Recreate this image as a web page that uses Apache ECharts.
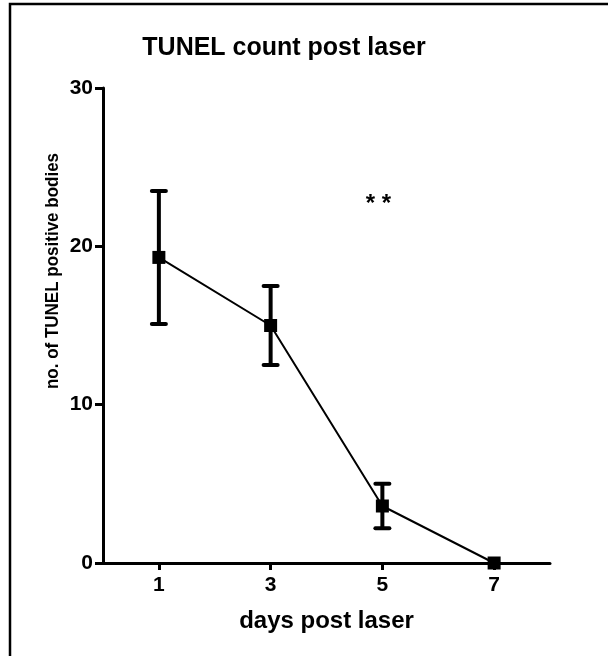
<!DOCTYPE html>
<html>
<head>
<meta charset="utf-8">
<script src="https://cdn.jsdelivr.net/npm/echarts@6/dist/echarts.min.js"></script>
<style>
  html, body { margin: 0; padding: 0; background: #fff; }
  #main { width: 608px; height: 656px; }
</style>
</head>
<body>
<div id="main"></div>
<script>
// days and mean TUNEL counts
let days = [1, 3, 5, 7];
let meanCount = [19.3, 15.0, 3.6, 0];
let errLow = [15.1, 12.5, 2.2, 0];
let errHigh = [23.5, 17.5, 5.0, 0];
let yTicks = [0, 10, 20, 30];

let lineData = days.map(function (d, i) { return [d, meanCount[i]]; });
let errData = days.map(function (d, i) { return [d, errLow[i], errHigh[i]]; });

let font = 'Liberation Sans, Arial, sans-serif';

let option = {
  backgroundColor: '#fff',
  animation: false,
  title: {
    text: 'TUNEL count post laser',
    left: 279,
    top: 31,
    textAlign: 'center',
    textStyle: { fontFamily: font, fontSize: 25, fontWeight: 'bold', color: '#000' }
  },
  grid: { left: 103, right: 58, top: 88, bottom: 93 },
  xAxis: {
    type: 'value',
    min: 0,
    max: 8,
    name: 'days post laser',
    nameLocation: 'middle',
    nameGap: 46,
    nameTextStyle: { fontFamily: font, fontSize: 24, fontWeight: 'bold', color: '#000' },
    axisLine: { lineStyle: { color: '#000', width: 3 } },
    axisTick: { show: true, length: 7, lineStyle: { color: '#000', width: 3 }, customValues: days },
    axisLabel: { customValues: days, margin: 12, fontFamily: font, fontSize: 21, fontWeight: 'bold', color: '#000' },
    splitLine: { show: false }
  },
  yAxis: {
    type: 'value',
    min: 0,
    max: 30,
    interval: 10,
    axisLine: { show: true, lineStyle: { color: '#000', width: 3 } },
    axisTick: { show: true, length: 8, lineStyle: { color: '#000', width: 3 } },
    axisLabel: { margin: 10, fontFamily: font, fontSize: 21, fontWeight: 'bold', color: '#000' },
    splitLine: { show: false }
  },
  graphic: [
    {
      type: 'rect',
      shape: { x: 10, y: 4, width: 800, height: 800 },
      style: { fill: 'none', stroke: '#000', lineWidth: 2.5 },
      silent: true
    },
    {
      type: 'text',
      x: 53,
      y: 271,
      rotation: Math.PI / 2,
      scaleY: 1.1,
      style: {
        text: 'no. of TUNEL positive bodies',
        fontFamily: font, fontSize: 17, fontWeight: 'bold', fill: '#000',
        align: 'center', verticalAlign: 'middle'
      }
    }
  ],
  series: [
    {
      type: 'custom',
      data: errData,
      renderItem: function (params, api) {
        let x = api.value(0);
        let lo = api.coord([x, api.value(1)]);
        let hi = api.coord([x, api.value(2)]);
        if (api.value(2) - api.value(1) <= 0) return { type: 'group', children: [] };
        let w = 7;
        let st = { stroke: '#000', lineWidth: 4, lineCap: 'round' };
        return {
          type: 'group',
          children: [
            { type: 'line', shape: { x1: lo[0], y1: lo[1], x2: hi[0], y2: hi[1] }, style: { stroke: '#000', lineWidth: 4 } },
            { type: 'line', shape: { x1: hi[0] - w, y1: hi[1], x2: hi[0] + w, y2: hi[1] }, style: st },
            { type: 'line', shape: { x1: lo[0] - w, y1: lo[1], x2: lo[0] + w, y2: lo[1] }, style: st }
          ]
        };
      },
      z: 3
    },
    {
      type: 'line',
      data: lineData,
      symbol: 'rect',
      symbolSize: 13,
      itemStyle: { color: '#000' },
      lineStyle: { color: '#000', width: 2 },
      z: 4,
      markPoint: {
        symbol: 'rect',
        symbolSize: 1,
        itemStyle: { color: 'rgba(0,0,0,0)' },
        label: {
          show: true,
          formatter: '* *',
          position: 'inside',
          offset: [-4, 6],
          fontFamily: font,
          fontSize: 24,
          fontWeight: 'bold',
          color: '#000'
        },
        data: [{ coord: [5, 23] }]
      }
    }
  ]
};

let chart = echarts.init(document.getElementById('main'));
chart.setOption(option);
</script>
</body>
</html>
